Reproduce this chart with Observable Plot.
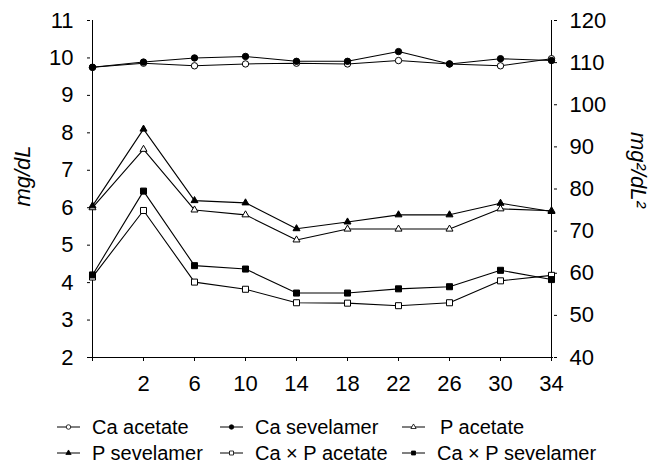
<!DOCTYPE html>
<html>
<head>
<meta charset="utf-8">
<script src="https://cdn.jsdelivr.net/npm/d3@7"></script>
<script src="https://cdn.jsdelivr.net/npm/@observablehq/plot@0.6"></script>
<style>
  html, body { margin: 0; padding: 0; background: white; }
  #chart { width: 653px; font-family: "Liberation Sans", Arial, sans-serif; }
  #legend { position: relative; width: 653px; height: 64px; font-family: "Liberation Sans", Arial, sans-serif; font-size: 20px; color: black; }
  .item { position: absolute; display: flex; align-items: center; white-space: nowrap; }
  .item svg { margin-right: 11px; }
</style>
</head>
<body>
<div id="chart"></div>
<script>
// ---- data ----
const weeks = ["0", "2", "6", "10", "14", "18", "22", "26", "30", "34"];
const caAcetate     = [9.75, 9.86, 9.79, 9.84, 9.86, 9.84, 9.93, 9.84, 9.79, 9.98];
const caSevelamer   = [9.75, 9.89, 10.00, 10.04, 9.91, 9.91, 10.17, 9.84, 9.98, 9.93];
const pAcetate      = [6.00, 7.56, 5.94, 5.81, 5.14, 5.43, 5.43, 5.43, 5.97, 5.92];
const pSevelamer    = [6.05, 8.10, 6.19, 6.13, 5.44, 5.62, 5.81, 5.81, 6.12, 5.90];
const caxpAcetate   = [59.1, 74.9, 57.9, 56.2, 53.0, 52.9, 52.3, 53.0, 58.2, 59.5];
const caxpSevelamer = [59.6, 79.5, 61.8, 61.0, 55.3, 55.3, 56.3, 56.8, 60.7, 58.5];
const leftTicks  = [2, 3, 4, 5, 6, 7, 8, 9, 10, 11];
const rightTicks = [40, 50, 60, 70, 80, 90, 100, 110, 120];
const seriesNames = ["Ca acetate", "Ca sevelamer", "P acetate", "P sevelamer", "Ca \u00d7 P acetate", "Ca \u00d7 P sevelamer"];
const leftLabel = "mg/dL";
const rightLabel = "mg\u00b2/dL\u00b2";

// right axis (mg²/dL²) mapped onto left axis (mg/dL)
const toLeft = r => 2 + (r - 40) * 9 / 80;
const toRight = l => 40 + (l - 2) * 80 / 9;

const series = [
  {name: seriesNames[0], values: caAcetate, symbol: "circle", fill: "white", right: false},
  {name: seriesNames[1], values: caSevelamer, symbol: "circle", fill: "black", right: false},
  {name: seriesNames[2], values: pAcetate, symbol: "triangle", fill: "white", right: false},
  {name: seriesNames[3], values: pSevelamer, symbol: "triangle", fill: "black", right: false},
  {name: seriesNames[4], values: caxpAcetate, symbol: "square", fill: "white", right: true},
  {name: seriesNames[5], values: caxpSevelamer, symbol: "square", fill: "black", right: true}
];
const symR = {circle: 3.2, triangle: 2.6, square: 3.4};

const rows = s => weeks.map((w, i) => ({w, v: s.right ? toLeft(s.values[i]) : s.values[i]}));

const marks = [
  Plot.axisY({ticks: leftTicks, tickSize: 3, tickPadding: 14, label: null, fontSize: 22}),
  Plot.axisY({anchor: "right", ticks: rightTicks.map(toLeft), tickFormat: d => Math.round(toRight(d)), tickSize: 3, tickPadding: 13, label: null, fontSize: 22}),
  Plot.axisX({tickSize: 4, tickPadding: 14, tickFormat: d => d === "0" ? "" : d, label: null, fontSize: 22}),
  Plot.ruleX([weeks[0], weeks[weeks.length - 1]], {y1: 2, y2: 11, stroke: "black", strokeWidth: 1}),
  Plot.ruleY([2], {stroke: "black", strokeWidth: 1})
];
for (const s of series) {
  marks.push(Plot.line(rows(s), {x: "w", y: "v", stroke: "black", strokeWidth: 1.1}));
}
for (const s of series) {
  marks.push(Plot.dot(rows(s), {x: "w", y: "v", symbol: () => s.symbol, r: symR[s.symbol], fill: s.fill, stroke: "black", strokeWidth: 1}));
}
marks.push(Plot.text([leftLabel], {frameAnchor: "left", y: () => 6.03, dx: -68, rotate: -90, fontStyle: "italic", fontSize: 22, fill: "black"}));
marks.push(Plot.text([rightLabel], {frameAnchor: "right", y: () => 6.0, dx: 85, rotate: 90, fontStyle: "italic", fontSize: 22, fill: "black"}));

const chart = Plot.plot({
  width: 653,
  height: 400,
  marginLeft: 90,
  marginRight: 100,
  marginTop: 20,
  marginBottom: 43,
  style: {fontFamily: "Liberation Sans, Arial, sans-serif", fontSize: "22px", color: "black", background: "white"},
  x: {type: "point", domain: weeks, padding: 0},
  y: {domain: [2, 11]},
  symbol: {type: "identity"},
  marks
});
document.getElementById("chart").appendChild(chart);

// legend
const legend = document.createElement("div");
legend.id = "legend";
const pos = [[57, 27], [220, 27], [402, 27], [57, 53], [220, 53], [402, 53]];
series.forEach((s, i) => {
  const item = document.createElement("div");
  item.className = "item";
  item.style.left = pos[i][0] + "px";
  item.style.top = (pos[i][1] - 12) + "px";
  const svg = d3.create("svg").attr("width", 24).attr("height", 24);
  svg.append("line").attr("x1", 0).attr("x2", 23).attr("y1", 12).attr("y2", 12).attr("stroke", "black");
  const sym = s.symbol === "circle" ? d3.symbolCircle : s.symbol === "triangle" ? d3.symbolTriangle : d3.symbolSquare;
  svg.append("path").attr("transform", "translate(11.5,12)").attr("d", d3.symbol(sym, s.symbol === "circle" ? 16 : s.symbol === "triangle" ? 12 : 16)())
    .attr("fill", s.fill).attr("stroke", "black").attr("stroke-width", 0.8);
  item.appendChild(svg.node());
  const span = document.createElement("span");
  span.textContent = s.name;
  if (i === 2) span.style.marginLeft = "3px";
  item.appendChild(span);
  legend.appendChild(item);
});
document.body.appendChild(legend);
</script>
</body>
</html>
